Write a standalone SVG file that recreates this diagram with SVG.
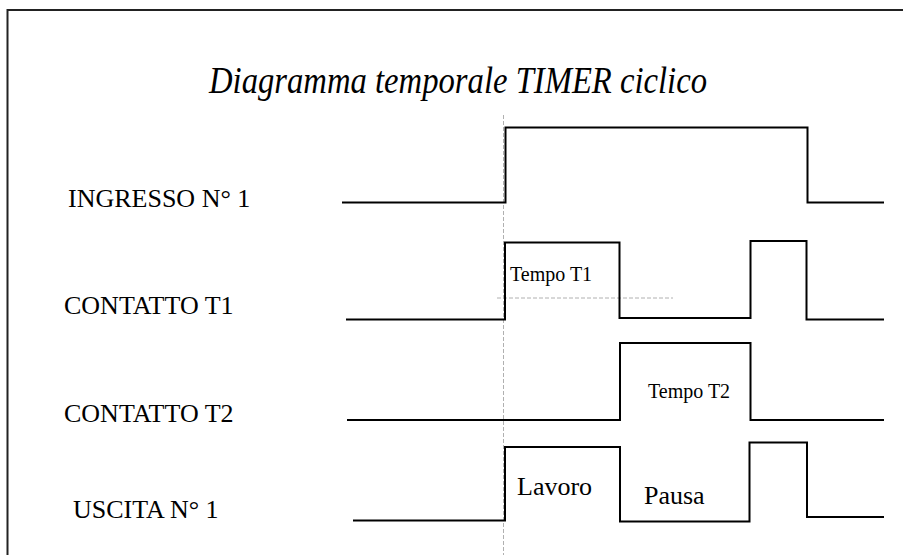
<svg xmlns="http://www.w3.org/2000/svg" width="903" height="555" viewBox="0 0 903 555">
<style>
.sig{fill:none;stroke:#000;stroke-width:2}
.guide{fill:none;stroke:#b0b0b0;stroke-width:1;stroke-dasharray:4 2}
.lbl{font-family:"Liberation Serif","Times New Roman",serif;font-size:26px;fill:#000}
.small{font-family:"Liberation Serif","Times New Roman",serif;font-size:20px;fill:#000}
.title{font-family:"Liberation Serif","Times New Roman",serif;font-style:italic;font-size:37px;fill:#000}
</style>
<rect x="0" y="0" width="903" height="555" fill="#fff"/>
<rect id="frame" x="7.5" y="10" width="920" height="580" fill="none" stroke="#222" stroke-width="2"/>
<text class="title" x="209" y="93" textLength="498" lengthAdjust="spacingAndGlyphs">Diagramma temporale TIMER ciclico</text>
<g id="connectors">
<line class="guide" x1="503.5" y1="115" x2="503.5" y2="555"/>
<line class="guide" x1="497" y1="298" x2="673" y2="298"/>
</g>
<g id="ingresso">
<text class="lbl" x="68" y="207">INGRESSO N° 1</text>
<path class="sig" d="M342,202.5 H505.5 V127.5 H807.5 V202.5 H884"/>
</g>
<g id="contatto-t1">
<text class="lbl" x="64" y="314">CONTATTO T1</text>
<path class="sig" d="M346,319.5 H505 V242.5 H619.5 V318 H750.5 V241 H806.5 V319.5 H884"/>
<text class="small" x="510" y="281">Tempo T1</text>
</g>
<g id="contatto-t2">
<text class="lbl" x="64" y="422">CONTATTO T2</text>
<path class="sig" d="M347,420 H620 V343 H750.5 V420 H884"/>
<text class="small" x="648" y="398">Tempo T2</text>
</g>
<g id="uscita">
<text class="lbl" x="73" y="518">USCITA N° 1</text>
<path class="sig" d="M353,520.5 H505 V447 H620 V521.5 H749.5 V442.5 H807 V517 H884"/>
<text class="lbl" x="517" y="495">Lavoro</text>
<text class="lbl" x="644" y="504">Pausa</text>
</g>
</svg>
